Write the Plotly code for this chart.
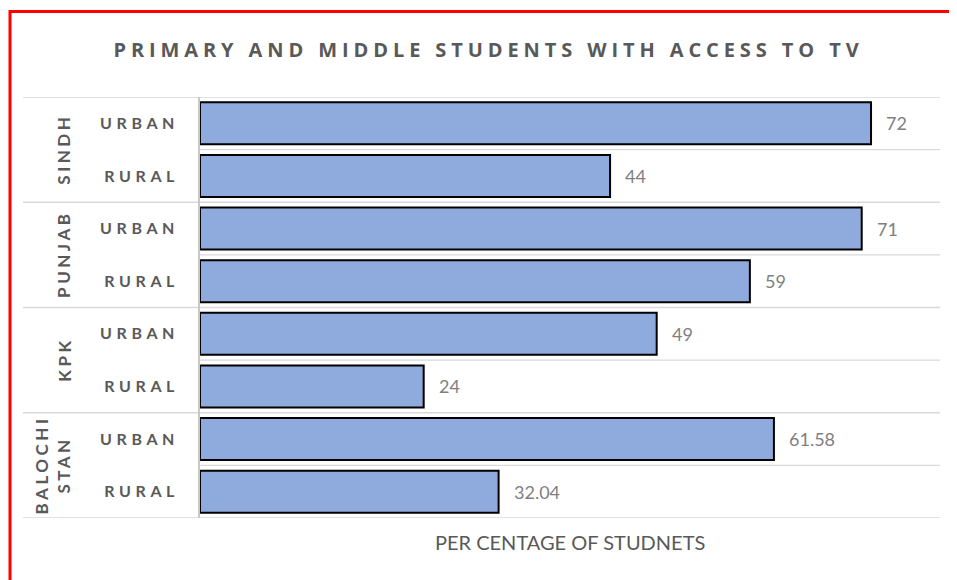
import plotly.graph_objects as go

groups = ["SINDH", "PUNJAB", "KPK", "BALOCHI<br>STAN"]
areas = ["URBAN", "RURAL"]
values = [72, 44, 71, 59, 49, 24, 61.58, 32.04]
value_labels = ["72", "44", "71", "59", "49", "24", "61.58", "32.04"]
title_text = "PRIMARY AND MIDDLE STUDENTS WITH ACCESS TO TV"
x_title = "PER CENTAGE OF STUDNETS"

# the page body adds an 8px offset; figure sized to fill the rest of the window
OFF = 8
W, H = 957 - OFF, 580 - OFF
L, R, T, B = 200 - OFF, 17, 97 - OFF, 62
pw, ph = W - L - R, H - T - B

def px_x(p):
    return (p - OFF - L) / pw

def px_y(p):
    return (H - B - (p - OFF)) / ph

def spaced(s, ls):
    return f'<span style="letter-spacing:{ls}px">{s}</span>'

n = len(values)
ypos = list(range(n))
ticktext = [spaced(areas[i % 2], 4.6) for i in range(n)]

GRAY = "#595959"
FONT = "Lato"

fig = go.Figure()
fig.add_trace(go.Bar(
    x=values, y=ypos, orientation="h",
    marker=dict(color="#8FAADC", line=dict(color="#000000", width=2)),
    hoverinfo="x",
))

annotations = []
for i, (v, t) in enumerate(zip(values, value_labels)):
    annotations.append(dict(x=v, y=i, xref="x", yref="y", text=t, showarrow=False,
                            xanchor="left", yanchor="middle", xshift=13,
                            font=dict(family=FONT, size=18, color="#7F7F7F")))

centers_px = [64, 64, 64.5, 52]
for gi, g in enumerate(groups):
    annotations.append(dict(x=px_x(centers_px[gi]), y=2 * gi + 0.5, xref="paper", yref="y",
                            text=spaced(g, 3.5), showarrow=False, textangle=-90,
                            xanchor="center", yanchor="middle",
                            font=dict(family=FONT, size=17, color=GRAY, weight="bold")))

annotations.append(dict(x=0.5, y=px_y(542), xref="paper", yref="paper", text=x_title,
                        showarrow=False, xanchor="center", yanchor="middle",
                        font=dict(family=FONT, size=20, color=GRAY)))

shapes = []
for b in range(n + 1):
    yb = b - 0.5
    x0 = px_x(23) if b % 2 == 0 else 0
    shapes.append(dict(type="line", xref="paper", yref="y", x0=x0, x1=1, y0=yb, y1=yb,
                       line=dict(color="#D9D9D9", width=1.3), layer="below"))

shapes.append(dict(type="rect", xref="paper", yref="paper",
                   x0=px_x(10), x1=px_x(1000), y0=px_y(620), y1=px_y(11.5),
                   line=dict(color="#FF0000", width=3), fillcolor="rgba(0,0,0,0)", layer="above"))

fig.update_layout(
    width=W, height=H,
    margin=dict(l=L, r=R, t=T, b=B, pad=0),
    paper_bgcolor="white", plot_bgcolor="white",
    bargap=0.2,
    showlegend=False,
    title=dict(text=spaced(title_text, 4.9), x=(488.5 - OFF) / W, y=1 - (50 - OFF) / H,
               xanchor="center", yanchor="middle",
               font=dict(family="Open Sans", size=20, color=GRAY, weight="bold")),
    xaxis=dict(range=[0, 79.4], showgrid=False, zeroline=False, showticklabels=False,
               showline=False, fixedrange=True),
    yaxis=dict(range=[n - 0.5, -0.5], tickvals=ypos, ticktext=ticktext, showgrid=False,
               zeroline=False, showline=True, linecolor="#C8C8C8", linewidth=1.5,
               ticks="outside", ticklen=16, tickcolor="rgba(0,0,0,0)",
               tickfont=dict(family=FONT, size=16, color=GRAY, weight="bold")),
    annotations=annotations,
    shapes=shapes,
)

fig.write_html("out.html")
